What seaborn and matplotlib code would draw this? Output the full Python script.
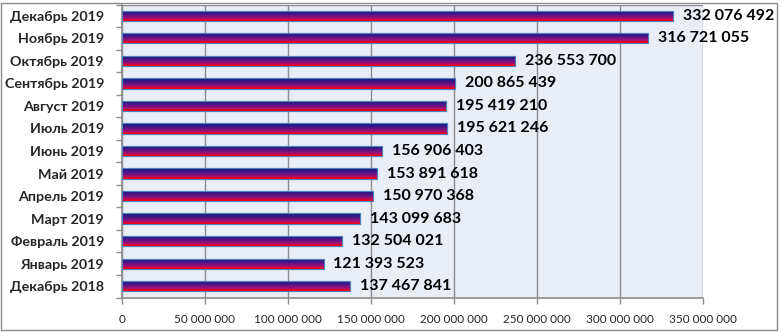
import numpy as np
import pandas as pd
import matplotlib
matplotlib.use("Agg")
import matplotlib.pyplot as plt
import seaborn as sns
from matplotlib.colors import LinearSegmentedColormap
from matplotlib.patches import Rectangle

months = ["Декабрь 2019", "Ноябрь 2019", "Октябрь 2019", "Сентябрь 2019", "Август 2019",
          "Июль 2019", "Июнь 2019", "Май 2019", "Апрель 2019", "Март 2019",
          "Февраль 2019", "Январь 2019", "Декабрь 2018"]
values = [332076492, 316721055, 236553700, 200865439, 195419210,
          195621246, 156906403, 153891618, 150970368, 143099683,
          132504021, 121393523, 137467841]
x_ticks = [0, 50000000, 100000000, 150000000, 200000000, 250000000, 300000000, 350000000]

def fmt(v):
    return f"{v:,}".replace(",", " ")

sns.set_theme(style="white")
plt.rcParams['font.family'] = ['Lato', 'DejaVu Sans']

df = pd.DataFrame({"month": months, "value": values})

fig = plt.figure(figsize=(7.81, 3.32), dpi=100)
ax = fig.add_axes([122/781, 1-297.5/332, (703-122)/781, (297.5-4.5)/332])
ax.set_facecolor("#E9EDF6")

sns.barplot(data=df, y="month", x="value", orient="h", ax=ax, width=0.46,
            color="#7a1a8a", edgecolor="#4F81BD", linewidth=0.8, zorder=3)

cmap = LinearSegmentedColormap.from_list(
    "g", [(0.0, "#1A1A80"), (0.3, "#3A1786"), (0.55, "#6E1384"), (0.78, "#B00E6A"), (1.0, "#FF0000")])
grad = np.linspace(0, 1, 64).reshape(-1, 1)
for p in ax.patches:
    x0, y0 = p.get_x(), p.get_y()
    w, h = p.get_width(), p.get_height()
    im = ax.imshow(grad, cmap=cmap, aspect="auto",
                   extent=(x0, x0 + w, y0 + h, y0), origin="upper", zorder=3.5)
    im.set_clip_path(p)
    edge = Rectangle((x0, y0), w, h, fill=False, edgecolor="#4F81BD", linewidth=0.8, zorder=4)
    ax.add_patch(edge)

for i, v in enumerate(values):
    ax.text(v + 6000000, i, fmt(v), va="center", ha="left", fontsize=11.5,
            fontweight="bold", color="black", clip_on=False, zorder=5)

ax.set_xlim(0, 350000000)
ax.set_ylim(len(months) - 0.5, -0.5)
ax.set_xticks(x_ticks)
ax.set_xticklabels([fmt(t) for t in x_ticks], fontsize=8.5)
ax.xaxis.grid(True, color="#8C8C8C", linewidth=1, zorder=1)
ax.set_axisbelow(True)
ax.set_xlabel("")
ax.set_ylabel("")
ax.set_yticks(range(len(months)))
ax.set_yticklabels(months, fontsize=10.3, fontweight="bold")
ax.set_yticks(np.arange(-0.5, len(months), 1), minor=True)
ax.tick_params(axis="y", which="major", length=0, pad=13)
ax.tick_params(axis="y", which="minor", length=4, color="#8C8C8C", width=1, direction="out", left=True)
ax.tick_params(axis="x", which="major", length=4, color="#8C8C8C", width=1, direction="out", bottom=True, pad=8)

for s in ["top", "right"]:
    ax.spines[s].set_visible(False)
ax.spines["left"].set_color("#8C8C8C")
ax.spines["bottom"].set_color("#8C8C8C")
ax.spines["left"].set_linewidth(1.2)
ax.spines["bottom"].set_linewidth(1.2)

ax.axhline(-0.5, color="#8C8C8C", linewidth=1, zorder=2)

fig.patches.append(Rectangle((1/781, 2/332), 776/781, 327/332, transform=fig.transFigure,
                             fill=False, edgecolor="#8C8C8C", linewidth=1))

fig.savefig("out.png", dpi=100)
